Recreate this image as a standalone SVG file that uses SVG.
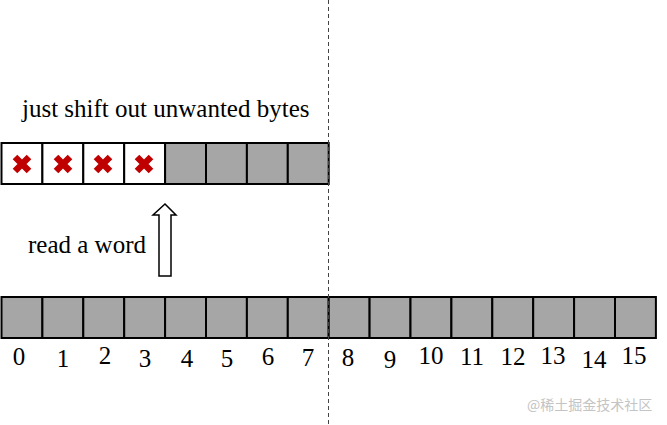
<svg xmlns="http://www.w3.org/2000/svg" width="667" height="425" viewBox="0 0 667 425">
<style>
.cell{fill:#a6a6a6;stroke:#000;stroke-width:2}
.wcell{fill:#fff;stroke:#000;stroke-width:2}
.t{font-family:'Liberation Serif','Times New Roman','DejaVu Serif',serif;font-size:25px;fill:#000}
.n{font-family:'Liberation Serif','Times New Roman','DejaVu Serif',serif;font-size:25px;fill:#000;text-anchor:middle}
.x{stroke:#c00000;stroke-width:6.5;stroke-linecap:butt}
</style>
<rect width="667" height="425" fill="#fff"/>
<g id="word-row">
<rect class="wcell" x="1.5" y="143" width="40.9" height="41"/>
<rect class="wcell" x="42.4" y="143" width="40.9" height="41"/>
<rect class="wcell" x="83.3" y="143" width="40.9" height="41"/>
<rect class="wcell" x="124.2" y="143" width="40.9" height="41"/>
<rect class="cell" x="165.1" y="143" width="40.9" height="41"/>
<rect class="cell" x="206" y="143" width="40.9" height="41"/>
<rect class="cell" x="246.9" y="143" width="40.9" height="41"/>
<rect class="cell" x="287.8" y="143" width="40.9" height="41"/>
<g class="x">
<path d="M15,157 L29,171 M29,157 L15,171"/>
<path d="M56,157 L70,171 M70,157 L56,171"/>
<path d="M96,157 L110,171 M110,157 L96,171"/>
<path d="M137,157 L151,171 M151,157 L137,171"/>
</g>
</g>
<g id="memory-row">
<rect class="cell" x="1.5" y="297" width="40.9" height="41"/>
<rect class="cell" x="42.4" y="297" width="40.9" height="41"/>
<rect class="cell" x="83.3" y="297" width="40.9" height="41"/>
<rect class="cell" x="124.2" y="297" width="40.9" height="41"/>
<rect class="cell" x="165.1" y="297" width="40.9" height="41"/>
<rect class="cell" x="206" y="297" width="40.9" height="41"/>
<rect class="cell" x="246.9" y="297" width="40.9" height="41"/>
<rect class="cell" x="287.8" y="297" width="40.9" height="41"/>
<rect class="cell" x="328.7" y="297" width="40.9" height="41"/>
<rect class="cell" x="369.6" y="297" width="40.9" height="41"/>
<rect class="cell" x="410.5" y="297" width="40.9" height="41"/>
<rect class="cell" x="451.4" y="297" width="40.9" height="41"/>
<rect class="cell" x="492.3" y="297" width="40.9" height="41"/>
<rect class="cell" x="533.2" y="297" width="40.9" height="41"/>
<rect class="cell" x="574.1" y="297" width="40.9" height="41"/>
<rect class="cell" x="615" y="297" width="40.9" height="41"/>
</g>
<g id="labels">
<text class="t" x="22" y="117">just shift out unwanted bytes</text>
<text class="t" x="28" y="253">read a word</text>
<text class="n" x="19" y="365">0</text>
<text class="n" x="63" y="367">1</text>
<text class="n" x="105" y="364">2</text>
<text class="n" x="145" y="367">3</text>
<text class="n" x="187" y="367">4</text>
<text class="n" x="227" y="367">5</text>
<text class="n" x="268" y="365">6</text>
<text class="n" x="308" y="366">7</text>
<text class="n" x="348" y="366">8</text>
<text class="n" x="390" y="368">9</text>
<text class="n" x="431" y="364">10</text>
<text class="n" x="472" y="365">11</text>
<text class="n" x="513" y="365">12</text>
<text class="n" x="553" y="364">13</text>
<text class="n" x="594" y="368">14</text>
<text class="n" x="634" y="364">15</text>
</g>
<g id="connectors">
<line x1="328.5" y1="0" x2="328.5" y2="425" stroke="#444" stroke-width="1" stroke-dasharray="4,3"/>
<polygon points="165,204 176,215 171,215 171,276 159,276 159,215 153,215" fill="#fff" stroke="#000" stroke-width="1.5" stroke-linejoin="miter"/>
</g>
<text x="527" y="410" font-family="'Noto Sans CJK SC',sans-serif" font-size="14" fill="#c4c4c4">@稀土掘金技术社区</text>
</svg>
